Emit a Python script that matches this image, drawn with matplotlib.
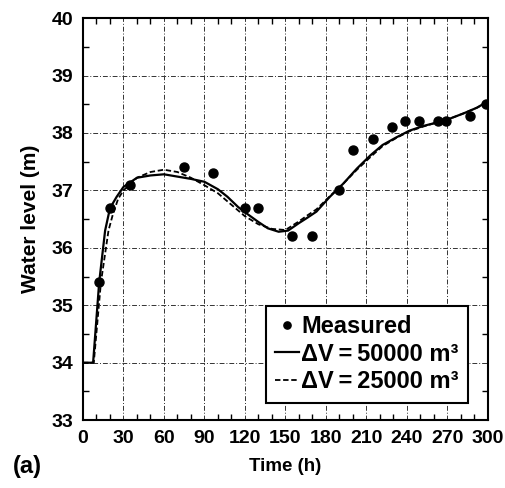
import matplotlib
matplotlib.use("Agg")
import matplotlib.pyplot as plt
from matplotlib.ticker import MultipleLocator

plt.rcParams['font.family'] = ['Liberation Sans', 'DejaVu Sans']

# measured water level
meas_t = [12, 20, 35, 75, 96, 120, 130, 155, 170, 190, 200, 215, 229, 239, 249, 263, 269, 287, 299]
meas_h = [35.4, 36.7, 37.1, 37.4, 37.3, 36.7, 36.7, 36.2, 36.2, 37.0, 37.7, 37.9, 38.1, 38.2,
          38.2, 38.2, 38.2, 38.3, 38.5]

# simulated, dV = 50000 m3
sim1_t = [0, 7.5, 12, 16.4, 20, 25, 30, 40, 50, 60, 70, 80, 90, 100, 107, 115, 120, 130, 137,
          145, 152, 160, 166, 173, 183, 193, 203, 213, 222, 232, 242, 252, 262, 272, 282, 292, 300]
sim1_h = [34.0, 34.0, 35.4, 36.3, 36.69, 36.89, 37.06, 37.22, 37.26, 37.28, 37.24, 37.2, 37.15,
          37.02, 36.89, 36.71, 36.62, 36.45, 36.34, 36.28, 36.3, 36.43, 36.52, 36.63, 36.89,
          37.12, 37.38, 37.61, 37.79, 37.92, 38.04, 38.12, 38.18, 38.25, 38.34, 38.44, 38.55]

# simulated, dV = 25000 m3
sim2_t = [0, 8, 13.3, 18.9, 22, 26, 30, 40, 50, 60, 70, 80, 90, 100, 110, 120, 130, 140, 150,
          160, 166, 173, 183, 193, 203, 213, 222, 232, 242, 252, 262, 272, 282, 292, 300]
sim2_h = [34.0, 34.0, 35.4, 36.3, 36.57, 36.85, 37.0, 37.22, 37.32, 37.36, 37.32, 37.22, 37.09,
          36.95, 36.75, 36.55, 36.41, 36.33, 36.31, 36.46, 36.56, 36.67, 36.9, 37.12, 37.36,
          37.58, 37.77, 37.91, 38.03, 38.11, 38.18, 38.25, 38.34, 38.44, 38.54]

fig = plt.figure(figsize=(5.06, 4.88), dpi=100)
ax = fig.add_axes([0.164, 0.139, 0.800, 0.824])

ax.plot(meas_t, meas_h, 'o', color='black', ms=6.5, label='Measured', zorder=4)
ax.plot(sim1_t, sim1_h, '-', color='black', lw=1.6, label='ΔV\u2009=\u200950000 m³', zorder=3)
ax.plot(sim2_t, sim2_h, color='black', lw=1.3, ls=(0, (3, 1.5)),
        label='ΔV\u2009=\u200925000 m³', zorder=3)

ax.set_xlim(0, 300)
ax.set_ylim(33, 40)
ax.xaxis.set_major_locator(MultipleLocator(30))
ax.xaxis.set_minor_locator(MultipleLocator(10))
ax.yaxis.set_major_locator(MultipleLocator(1))
ax.yaxis.set_minor_locator(MultipleLocator(0.5))
ax.tick_params(which='both', direction='in', top=True, right=True, width=1)
ax.tick_params(which='major', length=0, labelsize=14, pad=7)
ax.tick_params(which='minor', length=4)
for lab in ax.get_xticklabels() + ax.get_yticklabels():
    lab.set_fontweight('bold')
for sp in ax.spines.values():
    sp.set_linewidth(1.5)

ax.grid(True, which='major', color='#333333', lw=0.7, ls=(0, (5, 2, 1, 2)))

ax.set_xlabel('Time (h)', fontsize=13.5, fontweight='bold', labelpad=8)
ax.set_ylabel('Water level (m)', fontsize=15, fontweight='bold', labelpad=8)
fig.text(0.025, 0.03, '(a)', fontsize=17, fontweight='bold')

leg = ax.legend(loc='lower right', bbox_to_anchor=(0.952, 0.043),
                prop={'size': 17, 'weight': 'bold'}, markerscale=0.8,
                frameon=True, fancybox=False, edgecolor='black', framealpha=1,
                handlelength=1.0, handletextpad=0.1, borderpad=0.4, labelspacing=0.2,
                borderaxespad=0)
leg.get_frame().set_linewidth(1.5)

fig.savefig('out.png', dpi=100)
